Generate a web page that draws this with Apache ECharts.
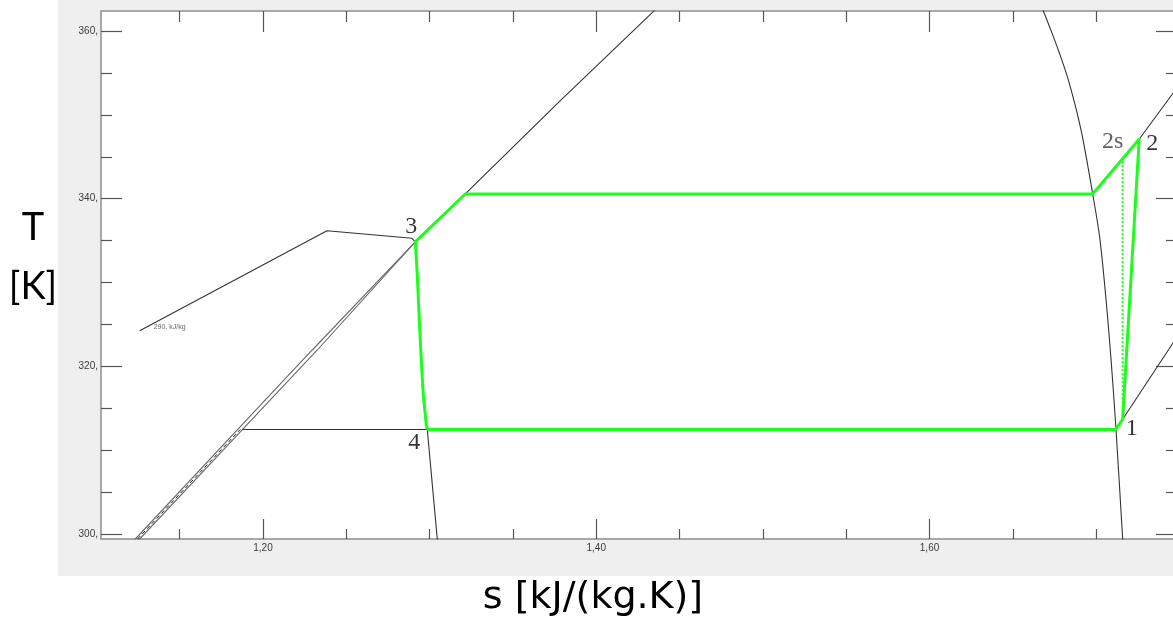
<!DOCTYPE html>
<html>
<head>
<meta charset="utf-8">
<script src="https://cdn.jsdelivr.net/npm/echarts@6/dist/echarts.min.js"></script>
<style>
  html, body { margin: 0; padding: 0; overflow: hidden; background: #fff; }
  #chart { width: 1190px; height: 623px; }
</style>
</head>
<body>
<div id="chart"></div>
<script>
// Axis ranges and tick positions (entropy s in kJ/(kg.K), temperature T in K)
const S_MIN = 1.1028, S_MAX = 1.7485;
const T_MIN = 299.44, T_MAX = 362.38;
const S_TICKS_MAJOR = [1.20, 1.40, 1.60];
const S_TICKS_MINOR = [1.15, 1.25, 1.30, 1.35, 1.45, 1.50, 1.55, 1.65, 1.70];
const T_TICKS_MAJOR = [300, 320, 340, 360];
const T_TICKS_MINOR = [305, 310, 315, 325, 330, 335, 345, 350, 355];

// Saturated liquid line above state 3
const satLiquidUpper = [[1.2914, 334.85], [1.3214, 340.57], [1.3783, 351.66], [1.4353, 362.51], [1.4413, 363.7]];
// Compressed-liquid double line below state 3
const liquidLineA = [[1.1200, 298.72], [1.1234, 299.44], [1.2014, 316.01], [1.2296, 321.97], [1.2914, 334.85]];
const liquidLineB = [[1.1226, 298.72], [1.1260, 299.44], [1.2044, 316.01], [1.2326, 321.97], [1.2914, 334.85]];
const liquidLineMid = [[1.1247, 299.44], [1.1864, 312.5]];
// Evaporating pressure inside the dome
const lowIsobarDome = [[1.1876, 312.5], [1.2986, 312.5]];
// Isenthalp 290 kJ/kg
const isenthalp290 = [[1.1260, 324.27], [1.2384, 336.19], [1.2894, 335.29], [1.2914, 334.85]];
const isenthalpLabel = [[1.1260, 324.27, '290, kJ/kg']];
// Throttling isenthalp below state 4
const throttleBelow = [[1.2986, 312.5], [1.3046, 299.44], [1.3049, 298.7]];
// Saturated vapour line
const satVapor = [[1.6663, 363.3], [1.6683, 362.38], [1.6723, 360.36], [1.6779, 357.38], [1.6833, 354.16],
  [1.6909, 348.20], [1.6979, 340.57], [1.7023, 335.09], [1.7075, 324.36], [1.7119, 312.5],
  [1.7159, 299.44], [1.7163, 298.7]];
// Superheated isobars
const lowIsobarSuperheat = [[1.7117, 312.5], [1.7159, 313.71], [1.7453, 322.57], [1.7600, 327.0]];
const highIsobarSuperheat = [[1.6979, 340.57], [1.7258, 347.09], [1.7453, 352.37], [1.7600, 356.3]];

// Refrigeration cycle 4 -> 3 -> condenser -> 2 -> 1 -> 4
const cycle = [[1.2986, 312.5], [1.2980, 313.03], [1.2962, 316.61], [1.2950, 320.78], [1.2938, 325.55],
  [1.2926, 330.91], [1.2914, 334.85], [1.3214, 340.57], [1.6979, 340.57], [1.7258, 347.09],
  [1.7159, 313.71], [1.7117, 312.5], [1.2986, 312.5]];
// Isentropic compression reference
const isentrope = [[1.7159, 313.71], [1.7159, 344.7]];

// State point labels
const stateNames = ['1', '2', '2s', '3', '4'];
const stateS = [1.7117, 1.7258, 1.7159, 1.2914, 1.2986];
const stateT = [312.5, 347.09, 344.7, 334.85, 312.5];

const labelStyle = {
  '1':  { offset: [16, -1], color: '#000' },
  '2':  { offset: [13, 4], color: '#000' },
  '2s': { offset: [-10, -18], color: '#3a3a3a' },
  '3':  { offset: [-4, -15], color: '#000' },
  '4':  { offset: [-13, 13], color: '#000' }
};

const GRAY = '#333';
const GREEN = '#1cff1c';

function grayLine(data, color, width, type, smooth) {
  return {
    type: 'line', data: data, symbol: 'none', silent: true, clip: true, smooth: smooth || false,
    lineStyle: { color: color || GRAY, width: width || 1, type: type || 'solid' }
  };
}

const sFmt = v => v.toFixed(2).replace('.', ',');
const tFmt = v => Math.round(v) + ',';

function xAx(pos, ticks, len, labels) {
  return {
    type: 'value', position: pos, min: S_MIN, max: S_MAX,
    axisLine: { show: false },
    splitLine: { show: false },
    axisTick: { show: true, inside: true, length: len, customValues: ticks, lineStyle: { color: '#555', width: 1.2 } },
    axisLabel: labels ? { show: true, customValues: ticks, formatter: sFmt, fontSize: 10,
      fontFamily: 'Liberation Sans, Arial, sans-serif', color: '#3a3a3a', margin: 4 } : { show: false }
  };
}
function yAx(pos, ticks, len, labels) {
  return {
    type: 'value', position: pos, min: T_MIN, max: T_MAX,
    axisLine: { show: false },
    splitLine: { show: false },
    axisTick: { show: true, inside: true, length: len, customValues: ticks, lineStyle: { color: '#555', width: 1.2 } },
    axisLabel: labels ? { show: true, customValues: ticks, formatter: tFmt, fontSize: 10,
      fontFamily: 'Liberation Sans, Arial, sans-serif', color: '#3a3a3a', margin: 3 } : { show: false }
  };
}

const chart = echarts.init(document.getElementById('chart'), null, { renderer: 'canvas' });

chart.setOption({
  animation: false,
  backgroundColor: '#fff',
  grid: {
    left: 101, top: 11, right: 13, bottom: 84,
    show: true, backgroundColor: '#fff', borderColor: '#8f8f8f', borderWidth: 1.5
  },
  graphic: [
    { type: 'rect', z: -100, silent: true, shape: { x: 58, y: 0, width: 1200, height: 576 }, style: { fill: '#efefef' } },
    { type: 'text', silent: true, x: 33, y: 228, style: { text: 'T', font: '38px Lato, "Open Sans", sans-serif', fill: '#000', align: 'center', verticalAlign: 'middle' } },
    { type: 'text', silent: true, x: 33, y: 287, style: { text: '[K]', font: '38px Lato, "Open Sans", sans-serif', fill: '#000', align: 'center', verticalAlign: 'middle' } },
    { type: 'text', silent: true, x: 593, y: 598, style: { text: 's [kJ/(kg.K)]', font: '38px "DejaVu Sans", sans-serif', fill: '#000', align: 'center', verticalAlign: 'middle' } }
  ],
  xAxis: [
    xAx('bottom', S_TICKS_MAJOR, 20, true),
    xAx('bottom', S_TICKS_MINOR, 10, false),
    xAx('top', S_TICKS_MAJOR, 21, false),
    xAx('top', S_TICKS_MINOR, 11, false)
  ],
  yAxis: [
    yAx('left', T_TICKS_MAJOR, 21, true),
    yAx('left', T_TICKS_MINOR, 11, false),
    yAx('right', T_TICKS_MAJOR, 21, false),
    yAx('right', T_TICKS_MINOR, 11, false)
  ],
  series: [
    grayLine(liquidLineA, '#6a6a6a', 1.1),
    grayLine(liquidLineB, '#6a6a6a', 1.1),
    grayLine(liquidLineMid, '#222', 1, [4, 3]),
    grayLine(satLiquidUpper, GRAY, 1.1),
    grayLine(lowIsobarDome, GRAY, 1.1),
    grayLine(isenthalp290, GRAY, 1.1),
    grayLine(throttleBelow, GRAY, 1.1),
    grayLine(satVapor, GRAY, 1.1, 'solid', 0.3),
    grayLine(lowIsobarSuperheat, GRAY, 1.1),
    grayLine(highIsobarSuperheat, GRAY, 1.1),
    {
      type: 'scatter', data: isenthalpLabel, symbolSize: 0, silent: true,
      label: { show: true, position: 'right', formatter: p => p.data[2], offset: [9, -4],
        fontSize: 7, color: '#444', fontFamily: 'Liberation Sans, Arial, sans-serif' }
    },
    {
      type: 'line', data: isentrope, symbol: 'none', silent: true,
      lineStyle: { color: GREEN, width: 2, type: [2, 2] }
    },
    {
      type: 'line', data: cycle, symbol: 'none', silent: true,
      lineStyle: { color: GREEN, width: 3, join: 'round' }
    },
    {
      type: 'scatter', symbolSize: 0, silent: true,
      data: stateNames.map((n, i) => ({
        value: [stateS[i], stateT[i]], name: n,
        label: { offset: labelStyle[n].offset, color: labelStyle[n].color }
      })),
      label: { show: true, position: 'inside', formatter: p => p.name,
        fontSize: 24, fontFamily: '"Liberation Serif", "Times New Roman", serif' }
    }
  ]
});
</script>
</body>
</html>
